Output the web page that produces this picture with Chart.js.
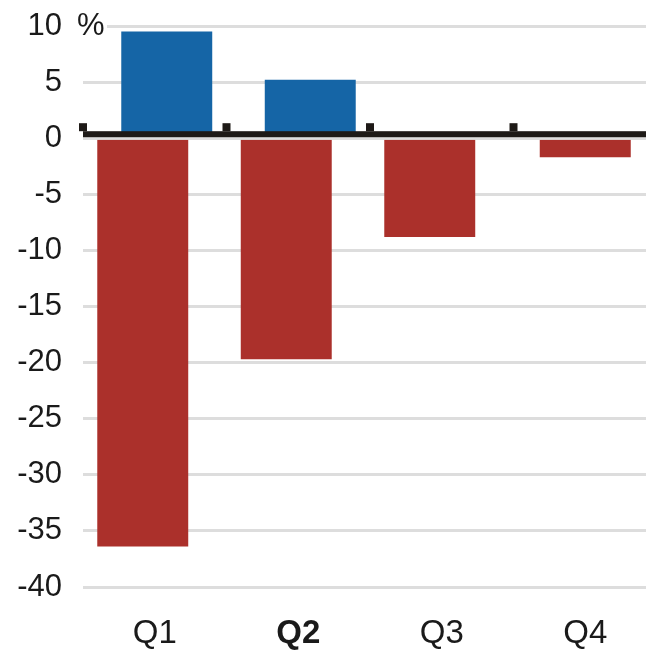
<!DOCTYPE html>
<html>
<head>
<meta charset="utf-8">
<script src="https://cdn.jsdelivr.net/npm/chart.js@4"></script>
<style>
    html, body { margin: 0; padding: 0; overflow: hidden; background: #fff; }
    #wrap { width: 657px; height: 651px; position: relative; }
</style>
</head>
<body>
<div id="wrap"><canvas id="chart"></canvas></div>
<script>
const quarters = ['Q1', 'Q2', 'Q3', 'Q4'];
const gains = [9.5, 5.2, 0, null];
const losses = [-36.4, -19.7, -8.8, -1.7];
const yTicks = [10, 5, 0, -5, -10, -15, -20, -25, -30, -35, -40];

const fontFamily = "'Liberation Sans', Arial, sans-serif";
const inkColor = '#1a1a1a';
const lineColor = '#1e1a17';
const gridColor = '#dddddd';

// thick zero line, the small marks between quarters, and the unit label
const zeroLinePlugin = {
    id: 'zeroLine',
    afterDatasetsDraw(chart) {
        const { ctx, chartArea, scales: { x, y } } = chart;
        const y0 = y.getPixelForValue(0);
        const step = x.getPixelForValue(1) - x.getPixelForValue(0);
        ctx.save();
        ctx.fillStyle = gridColor;
        ctx.fillRect(chartArea.left, y0 - 1.5, chartArea.right - chartArea.left, 3);
        ctx.fillStyle = lineColor;
        ctx.fillRect(chartArea.left, y0 - 7, chart.width - chartArea.left, 6);
        quarters.forEach((q, i) => {
            const bx = x.getPixelForValue(i) - step / 2;
            ctx.fillRect(bx - 4, y0 - 15, 8, 8);
        });
        ctx.restore();
    },
    afterDraw(chart) {
        const { ctx, chartArea, scales: { y } } = chart;
        const yTop = y.getPixelForValue(yTicks[0]);
        ctx.save();
        ctx.fillStyle = '#fff';
        ctx.fillRect(chartArea.left, yTop - 3, 24, 6);
        ctx.fillStyle = inkColor;
        ctx.font = '31px ' + fontFamily;
        ctx.textAlign = 'left';
        ctx.textBaseline = 'middle';
        ctx.fillText('%', 77, yTop);
        ctx.restore();
    }
};

new Chart(document.getElementById('chart'), {
    type: 'bar',
    data: {
        labels: quarters,
        datasets: [{
            label: 'losses',
            data: losses,
            backgroundColor: '#ab302b'
        }, {
            label: 'gains',
            data: gains,
            backgroundColor: '#1565a6'
        }]
    },
    options: {
        responsive: true,
        maintainAspectRatio: false,
        animation: false,
        skipNull: true,
        categoryPercentage: 0.3345,
        barPercentage: 3.79,
        maxBarThickness: 91,
        layout: { padding: { top: 26, left: 0, right: 0, bottom: 0 } },
        plugins: {
            legend: { display: false },
            tooltip: { enabled: false }
        },
        scales: {
            x: {
                grid: { display: false, drawTicks: false },
                border: { display: false },
                afterFit: (scale) => { scale.height = 64; },
                ticks: {
                    padding: 27,
                    color: inkColor,
                    font: (c) => ({
                        family: fontFamily,
                        size: 33,
                        weight: c.index === 1 ? 'bold' : 'normal'
                    })
                }
            },
            y: {
                min: yTicks[yTicks.length - 1],
                max: yTicks[0],
                afterFit: (scale) => {
                    scale.width = 83;
                    scale.paddingTop = 0;
                    scale.paddingBottom = 0;
                },
                afterBuildTicks: (scale) => {
                    scale.ticks = yTicks.map(v => ({ value: v }));
                },
                grid: { color: gridColor, lineWidth: 3, drawTicks: false },
                border: { display: false },
                ticks: {
                    padding: 21,
                    color: inkColor,
                    font: { family: fontFamily, size: 31 }
                }
            }
        }
    },
    plugins: [zeroLinePlugin]
});
</script>
</body>
</html>
